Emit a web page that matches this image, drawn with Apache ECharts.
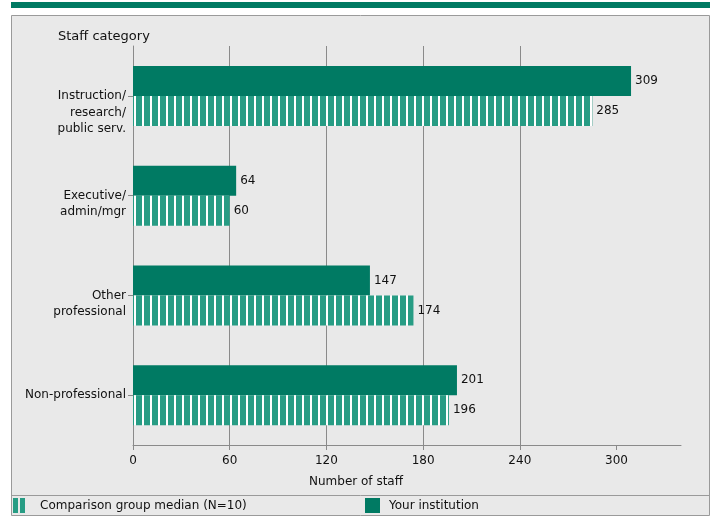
<!DOCTYPE html>
<html><head><meta charset="utf-8">
<script src="https://cdn.jsdelivr.net/npm/echarts@6/dist/echarts.min.js"></script>
<style>html,body{margin:0;padding:0;background:#fff}#c{width:715px;height:518px}</style>
</head><body><div id="c"></div>
<script>
const categories = ['Instruction/\nresearch/\npublic serv.', 'Executive/\nadmin/mgr', 'Other\nprofessional', 'Non-professional'];
const institution = [309, 64, 147, 201];
const comparison = [285, 60, 174, 196];
const xTicks = [0, 60, 120, 180, 240, 300];
const xMax = 340;
const seriesNames = ['Comparison group median (N=10)', 'Your institution'];

const SOLID = '#007a63';
const STRIPE = '#279c84';
const FONT = 'DejaVu Sans';

const pc = document.createElement('canvas');
pc.width = 8; pc.height = 8;
const g = pc.getContext('2d');
g.fillStyle = '#ffffff'; g.fillRect(0, 0, 8, 8);
g.fillStyle = STRIPE; g.fillRect(0, 0, 6, 8);

const chart = echarts.init(document.getElementById('c'), null, {renderer: 'canvas'});
const labelStyle = {show: true, position: 'right', distance: 4, color: '#111', fontFamily: FONT, fontSize: 12};

chart.setOption({
  animation: false,
  backgroundColor: '#ffffff',
  graphic: [
    {type: 'rect', z: -10, shape: {x: 11, y: 2, width: 699, height: 6}, style: {fill: SOLID}},
    {type: 'rect', z: -10, shape: {x: 11.5, y: 15.5, width: 698, height: 500}, style: {fill: '#e9e9e9', stroke: '#9a9a9a', lineWidth: 1}},
    {type: 'line', z: -9, shape: {x1: 12, y1: 495.5, x2: 709, y2: 495.5}, style: {stroke: '#9a9a9a', lineWidth: 1}},
    {type: 'rect', z: 5, shape: {x: 13, y: 498, width: 5, height: 15}, style: {fill: STRIPE}},
    {type: 'rect', z: 5, shape: {x: 20, y: 498, width: 5, height: 15}, style: {fill: STRIPE}},
    {type: 'text', left: 58, top: 30, style: {text: 'Staff category', fontFamily: FONT, fontSize: 13, fill: '#111'}},
    {type: 'text', left: 309, top: 476, style: {text: 'Number of staff', fontFamily: FONT, fontSize: 12, fill: '#111'}}
  ],
  grid: {left: 133, right: 34, top: 46, bottom: 73, containLabel: false},
  legend: [
    {data: [{name: seriesNames[0], icon: 'rect', itemStyle: {opacity: 0}}], left: 13, top: 498, padding: 0, itemWidth: 12, itemHeight: 15,
     textStyle: {fontFamily: FONT, fontSize: 12, color: '#111', padding: [0, 0, 0, 10]}, selectedMode: false},
    {data: [{name: seriesNames[1], icon: 'rect'}], left: 365, top: 498, padding: 0, itemWidth: 15, itemHeight: 15,
     textStyle: {fontFamily: FONT, fontSize: 12, color: '#111', padding: [0, 0, 0, 4]}, selectedMode: false}
  ],
  xAxis: {
    type: 'value', min: 0, max: xMax, interval: 60,
    axisLine: {show: true, lineStyle: {color: '#8a8a8a', width: 1}},
    axisTick: {show: true, length: 5, lineStyle: {color: '#8a8a8a'}, customValues: xTicks},
    axisLabel: {color: '#111', fontFamily: FONT, fontSize: 12, margin: 10, customValues: xTicks},
    splitLine: {show: true, showMaxLine: false, lineStyle: {color: '#8a8a8a', width: 1}}
  },
  yAxis: {
    type: 'category', inverse: true, data: categories,
    axisLine: {show: true, lineStyle: {color: '#8a8a8a', width: 1}},
    axisTick: {show: true, length: 5, alignWithLabel: true, lineStyle: {color: '#8a8a8a'}},
    axisLabel: {
      color: '#111', fontFamily: FONT, fontSize: 12, lineHeight: 16.5, margin: 7, align: 'right',
      formatter: function (v) { const n = v.split('\n').length; return '\n'.repeat(n - 1) + v; }
    }
  },
  series: [
    {name: seriesNames[1], type: 'bar', data: institution, barWidth: 30, barGap: '0%',
     itemStyle: {color: SOLID}, label: labelStyle},
    {name: seriesNames[0], type: 'bar', data: comparison, barWidth: 30, barGap: '0%',
     itemStyle: {color: {image: pc, repeat: 'repeat'}}, label: labelStyle}
  ]
});
</script></body></html>
